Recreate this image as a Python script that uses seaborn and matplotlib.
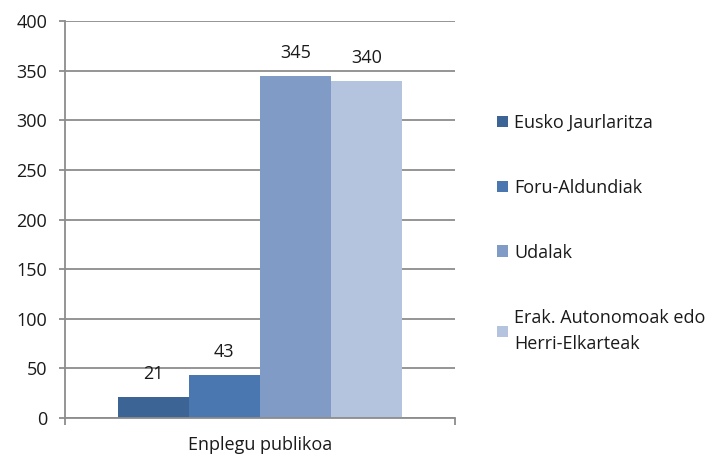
import matplotlib
matplotlib.use("Agg")
import matplotlib.pyplot as plt
import seaborn as sns
import pandas as pd
from matplotlib.patches import Patch

category = ["Enplegu publikoa"]
series = ["Eusko Jaurlaritza", "Foru-Aldundiak", "Udalak",
          "Erak. Autonomoak edo\nHerri-Elkarteak"]
values = [21, 43, 345, 340]
colors = ["#3C6494", "#4A77AF", "#7F9BC6", "#B4C3DE"]
yticks = [0, 50, 100, 150, 200, 250, 300, 350, 400]

df = pd.DataFrame({"cat": category * len(series), "series": series, "value": values})

sns.set_theme(style="white")
plt.rcParams["font.family"] = ["Open Sans", "DejaVu Sans"]

fig = plt.figure(figsize=(7.13, 4.55), dpi=100)
ax = fig.add_axes([0.0912, 0.0813, 0.638 - 0.0912, 0.9538 - 0.0813])

sns.barplot(data=df, x="cat", y="value", hue="series", palette=colors,
            width=0.73, ax=ax, legend=False, saturation=1, edgecolor="none")

fs = 13
ax.set_ylim(0, 400)
ax.set_xlim(-0.5, 0.5)
ax.set_yticks(yticks)
ax.set_yticklabels([str(t) for t in yticks], fontsize=fs, color="#1a1a1a")
ax.yaxis.grid(True, color="#8c8c8c", linewidth=1.3)
ax.set_axisbelow(True)
ax.set_xlabel("")
ax.set_ylabel("")
for s in ["top", "right"]:
    ax.spines[s].set_visible(False)
for s in ["left", "bottom"]:
    ax.spines[s].set_color("#8c8c8c")
    ax.spines[s].set_linewidth(1.3)
ax.tick_params(axis="y", which="major", length=4.3, width=1.3, color="#8c8c8c", pad=8.5, left=True)
ax.tick_params(axis="x", which="major", length=0, pad=13, labelsize=fs, labelcolor="#1a1a1a")
ax.set_xticks([-0.5, 0.5], minor=True)
ax.tick_params(axis="x", which="minor", length=5, width=1.3, color="#8c8c8c", bottom=True)

for cont in ax.containers:
    ax.bar_label(cont, padding=10, fontsize=fs, color="#1a1a1a")

handles = [Patch(facecolor=c, edgecolor="none") for c in colors]
leg = fig.legend(handles, series, loc="upper left", bbox_to_anchor=(0.687, 0.766),
                 frameon=False, fontsize=fs, handlelength=0.6, handleheight=0.6,
                 handletextpad=0.35, labelspacing=2.6, borderaxespad=0)
for t in leg.get_texts():
    t.set_linespacing(1.6)
    t.set_color("#1a1a1a")

fig.savefig("out.png", dpi=100)
